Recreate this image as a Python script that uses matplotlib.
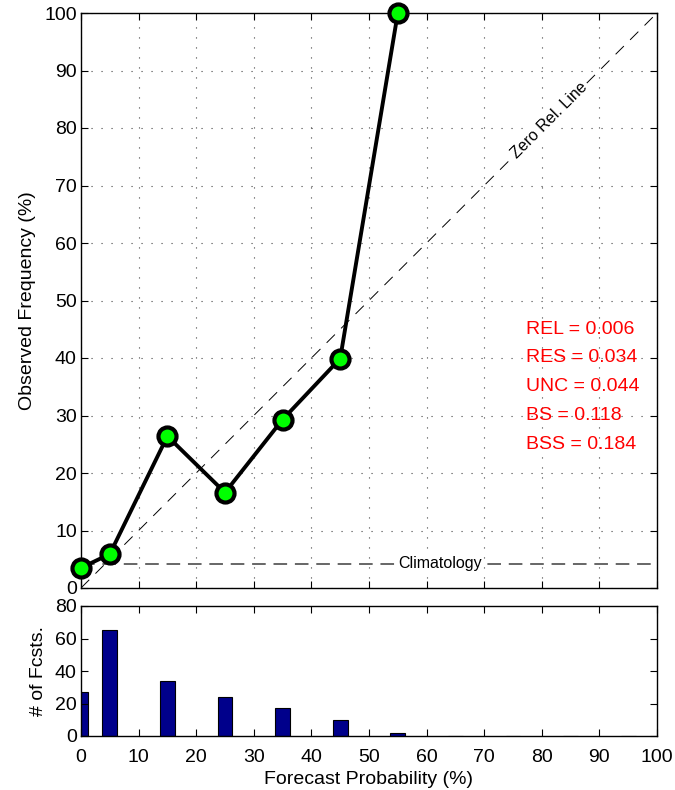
import matplotlib
matplotlib.use('Agg')
import matplotlib.pyplot as plt

plt.rcParams['font.family'] = ['Liberation Sans', 'DejaVu Sans']
plt.rcParams['font.size'] = 11

# reliability curve
fcst_prob = [0, 5, 15, 25, 35, 45, 55]
obs_freq = [3.5, 5.9, 26.4, 16.6, 29.3, 39.9, 100]

# histogram of forecasts
bin_centers = [0, 5, 15, 25, 35, 45, 55, 65, 75, 85, 95]
n_fcsts = [27, 65, 34, 24, 17, 10, 2, 0, 0, 0, 0]

climatology = 4.2
stats_labels = ['REL = 0.006', 'RES = 0.034', 'UNC = 0.044', 'BS = 0.118', 'BSS = 0.184']
stats_y = [45, 40, 35, 30, 25]

fig = plt.figure(figsize=(6.75, 7.9), dpi=100)
ax = fig.add_axes([81/675, 1 - 588/790, 576/675, 575/790])
ax2 = fig.add_axes([81/675, 1 - 736/790, 576/675, 130/790])

# main reliability panel
ax.plot([0, 100], [0, 100], color='black', linestyle=(0, (12, 9)), linewidth=0.7)
ax.plot([0, 100], [climatology, climatology], color='#666666', linestyle=(0, (7, 4)), linewidth=1.4)
ax.text(62.3, climatology, 'Climatology', ha='center', va='center', fontsize=11.5,
        bbox=dict(facecolor='white', edgecolor='none', pad=1))
ax.text(81.4, 81.4, 'Zero Rel. Line', ha='center', va='center', rotation=45, fontsize=11.5,
        rotation_mode='anchor', bbox=dict(facecolor='white', edgecolor='none', pad=1))
ax.plot(fcst_prob, obs_freq, color='black', linewidth=2.8, marker='o', markersize=13,
        markerfacecolor='#00ff00', markeredgecolor='black', markeredgewidth=3, zorder=5,
        clip_on=False)
for lab, yy in zip(stats_labels, stats_y):
    ax.text(77.3, yy, lab, color='red', fontsize=14, ha='left', va='center')

ax.set_xlim(0, 100)
ax.set_ylim(0, 100)
ax.set_xticks(range(0, 101, 10))
ax.set_yticks(range(0, 101, 10))
ax.set_xticklabels([])
ax.grid(True, linestyle=(0, (1, 8)), color='#444444', linewidth=0.8)
ax.set_ylabel('Observed Frequency (%)', fontsize=14, labelpad=6)
ax.tick_params(direction='in', top=True, right=True, length=5, labelsize=14, pad=3)

# histogram panel
ax2.bar(bin_centers, n_fcsts, width=2.6, color='#00008b', edgecolor='black', linewidth=0.8)
ax2.set_xlim(0, 100)
ax2.set_ylim(0, 80)
ax2.set_xticks(range(0, 101, 10))
ax2.set_yticks(range(0, 81, 20))
ax2.set_xlabel('Forecast Probability (%)', fontsize=14, labelpad=4)
ax2.set_ylabel('# of Fcsts.', fontsize=14, labelpad=6)
ax2.tick_params(direction='in', top=True, right=True, length=5, labelsize=14, pad=3)
ax2.tick_params(axis='x', pad=9)

for a in (ax, ax2):
    for s in a.spines.values():
        s.set_linewidth(1.0)

fig.savefig('out.png', dpi=100)
